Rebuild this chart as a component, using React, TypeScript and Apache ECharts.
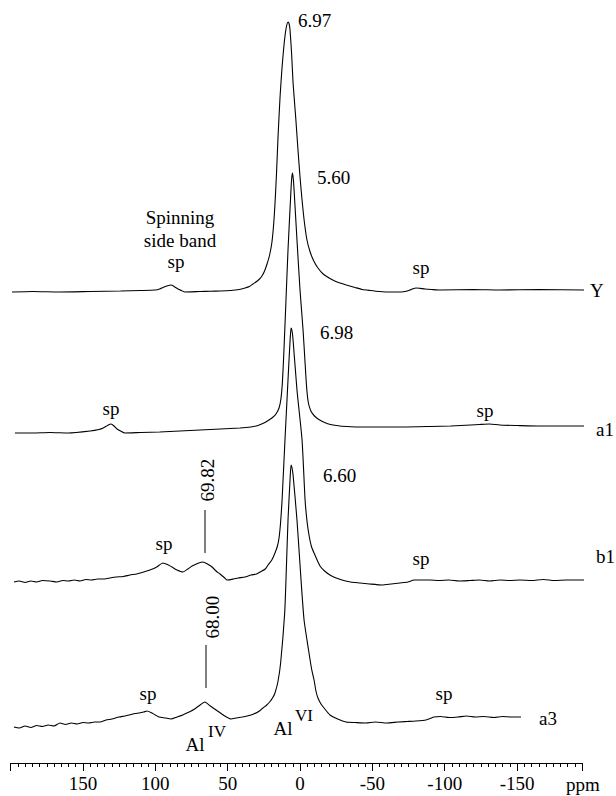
import { useEffect, useRef } from 'react';
import * as echarts from 'echarts';

// ---- data: [chemical shift (ppm), intensity above the trace's own baseline] ----
const traceNames = ['Y', 'a1', 'b1', 'a3'];
const peakLabels = ['6.97', '5.60', '6.98', '6.60'];
const alIVLabels = ['69.82', '68.00'];

const traceY: number[][] = [
  [199, 0], [185, 0.5], [166, 0], [145, 0.5], [124, 1], [110, 1.5], [100, 2], [97, 3], [94.7, 4.5], [92, 6],
  [89.2, 7], [87, 5.5], [84.3, 3], [82, 1.5], [79.5, 0], [69, 0.5], [62, 0.8], [55, 1], [48, 1.5], [42, 2.5],
  [38, 4], [35, 5.5], [32.5, 8], [30, 10.5], [28, 13], [26.3, 16], [24.5, 21], [22.8, 28], [21, 37], [19.4, 50],
  [18.2, 68], [17.3, 88], [16.2, 120], [15.2, 155], [13.8, 195], [12.4, 225], [11, 248], [9.7, 263], [8.3, 270],
  [7.5, 268], [6.9, 262], [5.8, 238], [4.8, 209], [3, 175], [1.4, 142], [0, 115], [-1.4, 92], [-3, 70],
  [-4.8, 52], [-7, 40], [-9.5, 31], [-12.4, 24], [-16, 18], [-20.7, 13.5], [-24, 11], [-27.6, 9], [-32, 7],
  [-38, 4.5], [-43, 2.5], [-48.4, 1.5], [-55, 0.5], [-62, 0], [-70, 0], [-73.5, 0.8], [-76, 2], [-78, 3.3],
  [-80.2, 4], [-83, 3.6], [-86.4, 3], [-91, 2.5], [-96.8, 2], [-120, 2.5], [-138, 2], [-165, 2.5], [-197, 2],
];

const traceA1: number[][] = [
  [197, 0], [185, 0], [172.8, 0.5], [160, 0], [145, 2], [139, 3.5], [136, 5], [133, 7.5], [130.6, 9], [128.5, 7],
  [126.5, 4], [124, 2], [121, 0], [110, 0.5], [97, 1], [83, 2], [69, 3], [55, 4], [41.5, 5], [34, 6], [29, 7.5],
  [25, 10], [22, 12.5], [19, 15.5], [16.6, 19], [14.5, 25], [13.2, 34], [12.2, 50], [11.1, 83], [9.7, 133],
  [8.3, 183], [6.6, 233], [5.9, 252], [5.3, 260], [4.7, 255], [4.1, 243], [2.1, 193], [0, 143], [-2.1, 103],
  [-3.5, 70], [-4.6, 45], [-5.8, 30], [-7.5, 22], [-10, 17], [-13, 13.5], [-17, 10.5], [-21, 8.5], [-27.6, 7],
  [-35, 6.3], [-41.5, 6], [-69, 6], [-90, 6.5], [-104, 7], [-118, 8], [-124, 8.5], [-131, 9], [-138, 8],
  [-150, 7.5], [-166, 7], [-185, 7], [-205, 7],
];

const traceB1: number[][] = [
  [197.7, 0], [194, 1], [190, -0.5], [186, 1], [182, 0], [178, 1.5], [172.8, 1], [168, 0], [164, 1.5], [160, 1],
  [156, 2], [152, 1], [148, 2.5], [144, 2], [140, 3], [135, 3], [131.3, 4], [127, 5], [122, 5.5], [117.5, 7],
  [113, 8], [108, 10], [103.7, 12], [99, 15], [94.7, 19], [91, 17], [88.5, 15], [85, 12], [80.9, 10], [77.5, 13],
  [74.6, 16], [70, 19], [67, 20], [64, 18], [60.8, 15], [58, 11], [55.3, 8], [52, 4], [50.4, 2], [46, 3],
  [42.8, 4], [38, 5], [33.9, 7], [30, 8], [27.6, 10], [24, 13], [22.1, 17], [19.5, 22], [17.3, 29], [15.6, 36],
  [14.5, 44], [13.4, 60], [12.4, 82], [10.4, 142], [9.0, 182], [7.6, 222], [6.8, 243], [6.2, 254], [5.5, 251],
  [4.8, 242], [2.1, 192], [-1.4, 142], [-3.5, 82], [-4.9, 60], [-6.2, 47], [-7.8, 36], [-9.7, 29], [-13.8, 16],
  [-17, 11], [-20.7, 7], [-25, 4], [-29, 2], [-35, 0], [-41.5, -1], [-48, -2], [-56.7, -3], [-63, -2],
  [-69, -1], [-74.6, 0], [-78.8, 2], [-84, 2], [-89.8, 2], [-96, 1.5], [-103, 2], [-110, 1], [-117.5, 1.5],
  [-124, 2], [-131, 1], [-138, 2], [-145, 1.5], [-152, 2], [-160, 1.5], [-168, 2.5], [-176, 1.5], [-184, 2],
  [-192, 2], [-199.7, 2],
];

const traceA3: number[][] = [
  [197.7, 0], [194, -1], [190, 1], [186, -0.5], [182, 1.5], [178, 0.5], [174, 2], [170, 1], [165.9, 4], [162, 2.5],
  [158, 4], [154, 3], [150, 4.5], [146, 4], [142, 5], [138.2, 5], [134, 7], [130, 8], [125.1, 10], [121, 11],
  [118, 12], [114, 13.5], [111.3, 14], [108, 15], [105.7, 16], [103, 14.5], [100, 12], [97.4, 10], [93, 9],
  [89.2, 8], [85, 10], [81, 12], [78.1, 14], [74, 17], [70, 21], [65.7, 25], [62, 21], [59, 18], [56, 15],
  [52, 11], [47.7, 8], [44, 9], [40, 10], [36.6, 11], [32, 13], [28, 16], [25.6, 19], [23, 22], [21, 25],
  [19, 29], [17.3, 34], [15.3, 45], [13.4, 64], [10.6, 114], [9.7, 147], [8.3, 207], [6.9, 247], [6.2, 262],
  [5.5, 259], [4.8, 252], [2.1, 207], [-0.7, 147], [-2.8, 107], [-5.9, 77], [-8, 58], [-9.7, 47], [-11, 36],
  [-12.4, 29], [-14.5, 23], [-16.6, 19], [-20.7, 12], [-26, 8], [-31.8, 5], [-38, 4.5], [-45.6, 4], [-52, 5],
  [-60, 4], [-67.7, 5], [-74, 5.5], [-80, 6], [-87.1, 7], [-90, 8.5], [-92.6, 10], [-97, 10.5], [-103, 9.5],
  [-109.2, 10], [-115, 11], [-121, 10], [-127, 10.5], [-134, 9.5], [-140, 10.5], [-146, 10], [-152.7, 10],
];

const traces = [traceY, traceA1, traceB1, traceA3];
// vertical stacking offsets of each spectrum (intensity units)
const traceOffsets = [471, 330, 181, 36];

const tickLabels = ['150', '100', '50', '0', '-50', '-100', '-150'];
const axisMax = 200;
const axisMin = -195;
const minorStep = 5;

const FONT = "'Liberation Serif', 'Times New Roman', Times, serif";

export default function App() {
  const ref = useRef<HTMLDivElement>(null);

  useEffect(() => {
    const chart = echarts.init(ref.current!, null, { renderer: 'svg' });

    const cats: string[] = [];
    for (let v = axisMax; v >= axisMin; v -= minorStep) cats.push(String(v));
    const majorTicks = ['200', ...tickLabels, String(axisMin)];

    const txt = (text: string, x: number, y: number, align = 'center', size = 19, extra: any = {}) => ({
      type: 'text',
      x,
      y,
      silent: true,
      ...extra,
      style: {
        text,
        fill: '#000',
        font: `${size}px ${FONT}`,
        fontSize: size,
        fontFamily: FONT,
        align,
        verticalAlign: 'middle',
        textAlign: align,
        textVerticalAlign: 'middle',
      },
    });

    const graphic: any[] = [
      txt(peakLabels[0], 298, 20, 'left'),
      txt(peakLabels[1], 317, 177, 'left'),
      txt(peakLabels[2], 320, 332, 'left'),
      txt(peakLabels[3], 323, 475, 'left'),
      txt('Spinning', 180, 217),
      txt('side band', 180, 240),
      txt('sp', 176, 261),
      txt('sp', 421, 267),
      txt('sp', 111, 408),
      txt('sp', 485, 410),
      txt('sp', 164, 543),
      txt('sp', 421, 558),
      txt('sp', 148, 693),
      txt('sp', 444, 693),
      txt(traceNames[0], 590, 290, 'left'),
      txt(traceNames[1], 596, 429, 'left'),
      txt(traceNames[2], 596, 556, 'left'),
      txt(traceNames[3], 539, 718, 'left'),
      txt('ppm', 566, 784, 'left'),
      txt(alIVLabels[0], 207, 480, 'center', 19, { rotation: Math.PI / 2 }),
      txt(alIVLabels[1], 212, 617, 'center', 19, { rotation: Math.PI / 2 }),
      { type: 'line', silent: true, shape: { x1: 205, y1: 510, x2: 205, y2: 553 }, style: { stroke: '#000', lineWidth: 1 } },
      { type: 'line', silent: true, shape: { x1: 206, y1: 645, x2: 206, y2: 688 }, style: { stroke: '#000', lineWidth: 1 } },
      txt('Al', 195, 744),
      txt('IV', 217, 731, 'center', 17),
      txt('Al', 283, 728),
      txt('VI', 304, 715, 'center', 17),
    ];

    const option: any = {
      animation: false,
      backgroundColor: '#fff',
      textStyle: { fontFamily: FONT },
      grid: { left: 10.6, right: 616 - 582.2, top: 0, bottom: 33, containLabel: false },
      xAxis: [
        { type: 'value', min: axisMin, max: axisMax, inverse: true, show: false },
        {
          type: 'category',
          data: cats,
          boundaryGap: false,
          position: 'bottom',
          offset: 0,
          axisLine: { show: true, lineStyle: { color: '#000', width: 1 } },
          axisTick: { show: true, interval: 0, length: 4, lineStyle: { color: '#000', width: 1 } },
          axisLabel: { show: false },
          splitLine: { show: false },
        },
        {
          type: 'category',
          data: cats,
          boundaryGap: false,
          position: 'bottom',
          offset: 0,
          axisLine: { show: false },
          axisTick: {
            show: true,
            interval: (_i: number, v: string) => majorTicks.includes(v),
            length: 8,
            lineStyle: { color: '#000', width: 1 },
          },
          axisLabel: {
            show: true,
            interval: (_i: number, v: string) => tickLabels.includes(v),
            color: '#000',
            fontSize: 19,
            fontFamily: FONT,
            margin: 11,
          },
          splitLine: { show: false },
        },
      ],
      yAxis: [{ type: 'value', min: 0, max: 763, show: false }],
      series: traces.map((t, i) => ({
        type: 'line',
        name: traceNames[i],
        xAxisIndex: 0,
        yAxisIndex: 0,
        data: t.map(([p, v]) => [p, v + traceOffsets[i]]),
        showSymbol: false,
        symbol: 'none',
        smooth: 0.2,
        clip: false,
        silent: true,
        lineStyle: { color: '#000', width: 1.1 },
      })),
      graphic,
    };

    chart.setOption(option);
    return () => chart.dispose();
  }, []);

  return (
    <div
      ref={ref}
      style={{ position: 'absolute', left: 0, top: 0, width: 616, height: 796, background: '#fff' }}
    />
  );
}
